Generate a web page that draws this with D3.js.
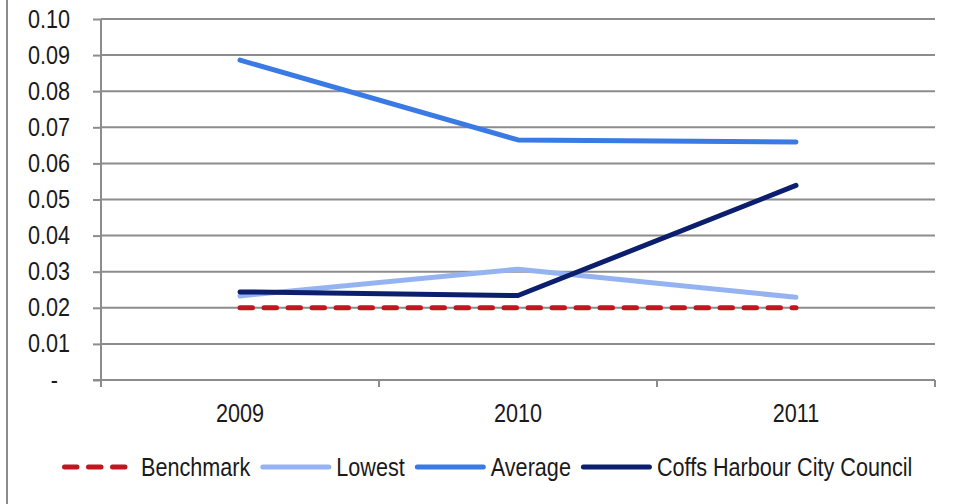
<!DOCTYPE html>
<html><head><meta charset="utf-8">
<script src="https://cdn.jsdelivr.net/npm/d3@7"></script>
<style>
html,body{margin:0;padding:0;background:#fff;}
text{font-family:"Liberation Sans Narrow","Arial Narrow","Liberation Sans",Arial,sans-serif;fill:#1a1a1a;}
</style></head>
<body><svg id="chart" width="954" height="504"></svg>
<script>
const categories = ["2009", "2010", "2011"];
const benchmark = [0.02, 0.02, 0.02];
const lowest = [0.0233, 0.0307, 0.0229];
const average = [0.0886, 0.0665, 0.0659];
const coffs = [0.0244, 0.0234, 0.0539];
const yTicks = [0, 0.01, 0.02, 0.03, 0.04, 0.05, 0.06, 0.07, 0.08, 0.09, 0.10];
const yTickLabels = ["-", "0.01", "0.02", "0.03", "0.04", "0.05", "0.06", "0.07", "0.08", "0.09", "0.10"];
const seriesNames = ["Benchmark", "Lowest", "Average", "Coffs Harbour City Council"];

const series = [
  {name: seriesNames[0], values: benchmark, color: "#c0161f", dash: "12.5,11.5"},
  {name: seriesNames[1], values: lowest, color: "#95b3f0", dash: null},
  {name: seriesNames[2], values: average, color: "#3a7ae4", dash: null},
  {name: seriesNames[3], values: coffs, color: "#0c1e6e", dash: null}
];

const svg = d3.select("#chart");
const pL = 101, pR = 935, pT = 19, pB = 380;
const fs = 25;
const k = 0.865; // horizontal condensing to imitate a narrow face
const gridColor = "#8c8c8c";

function condense(sel) {
  sel.each(function() {
    const t = d3.select(this);
    const x0 = +(t.attr("x") || 0);
    t.attr("transform", `translate(${x0 * (1 - k)},0) scale(${k},1)`);
  });
}

// outer border (left side)
svg.append("line").attr("x1", 7).attr("x2", 7).attr("y1", 0).attr("y2", 504)
  .attr("stroke", gridColor).attr("stroke-width", 2);

const x = d3.scaleBand().domain(categories).range([pL, pR]).padding(0);
const y = d3.scaleLinear().domain([0, 0.10]).range([pB, pT]);

// gridlines
svg.append("g").selectAll("line").data(yTicks.filter(d => d > 0)).join("line")
  .attr("x1", pL).attr("x2", pR)
  .attr("y1", d => y(d)).attr("y2", d => y(d))
  .attr("stroke", gridColor).attr("stroke-width", 2);

// y axis
const yAxis = d3.axisLeft(y).tickValues(yTicks).tickSize(8).tickPadding(23)
  .tickFormat((d, i) => yTickLabels[i]);
const gy = svg.append("g").attr("transform", `translate(${pL},0)`).call(yAxis);
gy.select(".domain").attr("stroke", gridColor).attr("stroke-width", 2)
  .attr("d", `M0,${pT}V${pB + 7}`);
gy.selectAll(".tick line").attr("stroke", gridColor).attr("stroke-width", 2);
gy.selectAll(".tick text").attr("font-size", fs).attr("font-family", null)
  .attr("fill", "#1a1a1a")
  .attr("dx", (d, i) => yTickLabels[i] === "-" ? -14 : 0)
  .call(condense);

// x axis
svg.append("line").attr("x1", pL - 8).attr("x2", pR).attr("y1", pB).attr("y2", pB)
  .attr("stroke", gridColor).attr("stroke-width", 2);
const bounds = categories.map(c => x(c)).concat([x(categories[categories.length - 1]) + x.bandwidth()]);
svg.append("g").selectAll("line").data(bounds).join("line")
  .attr("x1", d => d).attr("x2", d => d).attr("y1", pB).attr("y2", pB + 7)
  .attr("stroke", gridColor).attr("stroke-width", 2);
const xAxis = d3.axisBottom(x).tickSize(0).tickPadding(24);
const gx = svg.append("g").attr("transform", `translate(0,${pB})`).call(xAxis);
gx.select(".domain").remove();
gx.selectAll(".tick text").attr("font-size", fs).attr("font-family", null).attr("fill", "#1a1a1a")
  .call(condense);

// lines
const line = d3.line().x((d, i) => x(categories[i]) + x.bandwidth() / 2).y(d => y(d));
svg.append("g").selectAll("path").data(series).join("path")
  .attr("d", d => line(d.values))
  .attr("fill", "none")
  .attr("stroke", d => d.color)
  .attr("stroke-width", 5)
  .attr("stroke-linecap", "round")
  .attr("stroke-linejoin", "round")
  .attr("stroke-dasharray", d => d.dash);

// legend
const legY = 467;
const lg = svg.append("g");
let cx = 64.5;
series.forEach((s, i) => {
  const len = s.dash ? 60.5 : 66;
  lg.append("line").attr("x1", cx).attr("x2", cx + len).attr("y1", legY).attr("y2", legY)
    .attr("stroke", s.color).attr("stroke-width", 5).attr("stroke-linecap", "round")
    .attr("stroke-dasharray", s.dash);
  const tx = cx + len + (s.dash ? 16 : 7.5);
  const t = lg.append("text").attr("x", tx).attr("y", legY).attr("dy", "0.35em")
    .attr("font-size", fs).text(s.name).call(condense);
  const w = t.node().getComputedTextLength() * k;
  cx = tx + w + 12.5;
});
</script></body></html>
